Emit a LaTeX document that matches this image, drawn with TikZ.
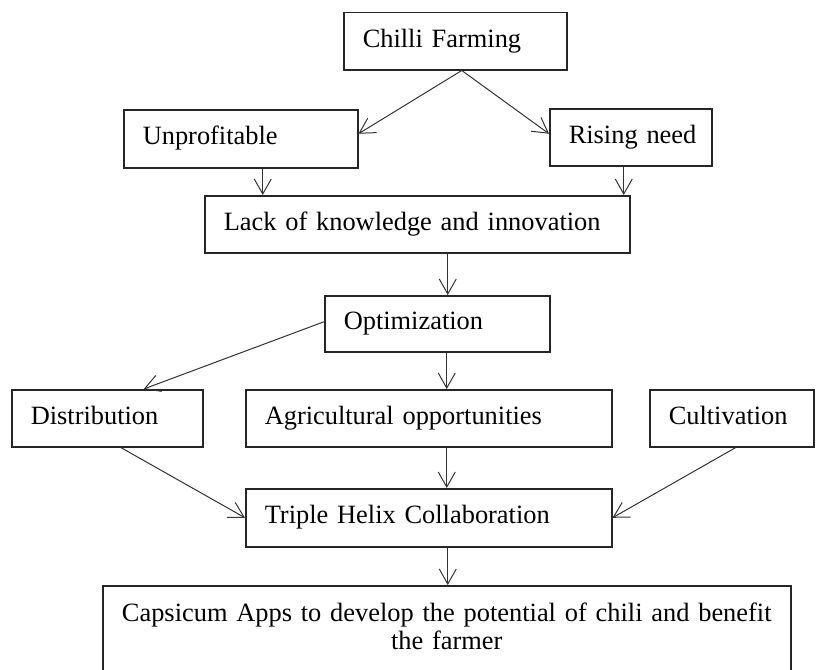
\documentclass[tikz,border=0pt]{standalone}
\usepackage{fontspec}
\setmainfont{Liberation Serif}
\usetikzlibrary{arrows.meta}
\begin{document}
\begin{tikzpicture}[x=1pt,y=-1pt,
  box/.style={draw=black!85, line width=1.5pt, rectangle, anchor=north west,
    align=left, inner xsep=0pt, inner ysep=0pt, text height=18pt, text depth=6pt,
    font=\fontsize{26.4}{28}\selectfont, execute at begin node={\hspace*{19pt}}},
  widebox/.style={draw=black!85, line width=1.5pt, rectangle, anchor=north west,
    align=center, inner xsep=19pt, inner ysep=0pt,
    font=\fontsize{26.4}{28}\selectfont},
  arr/.style={draw=black!80, line width=1pt, -{Straight Barb[length=15pt,width=17pt]}}]
\useasboundingbox (0,0) rectangle (818,669);

% boxes
\node[box, minimum width=223pt, minimum height=57pt, text width=223pt] (chilli) at (343,12) {Chilli Farming};
\node[box, minimum width=234pt, minimum height=58pt, text width=234pt] (unprof) at (123,109) {Unprofitable};
\node[box, minimum width=162pt, minimum height=57pt, text width=162pt] (rising) at (549,108) {Rising need};
\node[box, minimum width=425pt, minimum height=57pt, text width=425pt] (lack) at (204,195) {Lack of knowledge and innovation};
\node[box, minimum width=225pt, minimum height=56pt, text width=225pt] (optim) at (324,295) {Optimization};
\node[box, minimum width=191pt, minimum height=57pt, text width=191pt] (distr) at (11,389) {Distribution};
\node[box, minimum width=366pt, minimum height=57pt, text width=366pt] (agri) at (245,389) {Agricultural opportunities};
\node[box, minimum width=164pt, minimum height=57pt, text width=164pt] (cult) at (649,389) {Cultivation};
\node[box, minimum width=366pt, minimum height=58pt, text width=366pt] (helix) at (245,488) {Triple Helix Collaboration};
\node[widebox, minimum width=688pt, minimum height=87pt, text width=650pt] (apps) at (102,585)
  {Capsicum Apps to develop the potential of chili and benefit\\the farmer\rule[-7pt]{0pt}{0pt}};

% connectors
\draw[arr] ([xshift=6.5pt]chilli.south) -- ([yshift=5pt]unprof.east);
\draw[arr] ([xshift=6.5pt]chilli.south) -- ([yshift=3.5pt]rising.west);
\draw[arr] ([xshift=22pt]unprof.south) -- ([xshift=22pt]unprof.south |- lack.north);
\draw[arr] ([xshift=-7pt]rising.south) -- ([xshift=-7pt]rising.south |- lack.north);
\draw[arr] ([xshift=30.5pt]lack.south) -- ([xshift=30.5pt]lack.south |- optim.north);
\draw[arr] ([yshift=2pt]optim.west) -- ([xshift=36.5pt]distr.north);
\draw[arr] ([xshift=9.5pt]optim.south) -- ([xshift=9.5pt]optim.south |- agri.north);
\draw[arr] ([xshift=13.5pt]distr.south) -- (helix.west);
\draw[arr] ([xshift=18pt]agri.south) -- ([xshift=18pt]agri.south |- helix.north);
\draw[arr] ([xshift=4pt]cult.south) -- (helix.east);
\draw[arr] ([xshift=19pt]helix.south) -- ([xshift=19pt]helix.south |- apps.north);
\end{tikzpicture}
\end{document}
